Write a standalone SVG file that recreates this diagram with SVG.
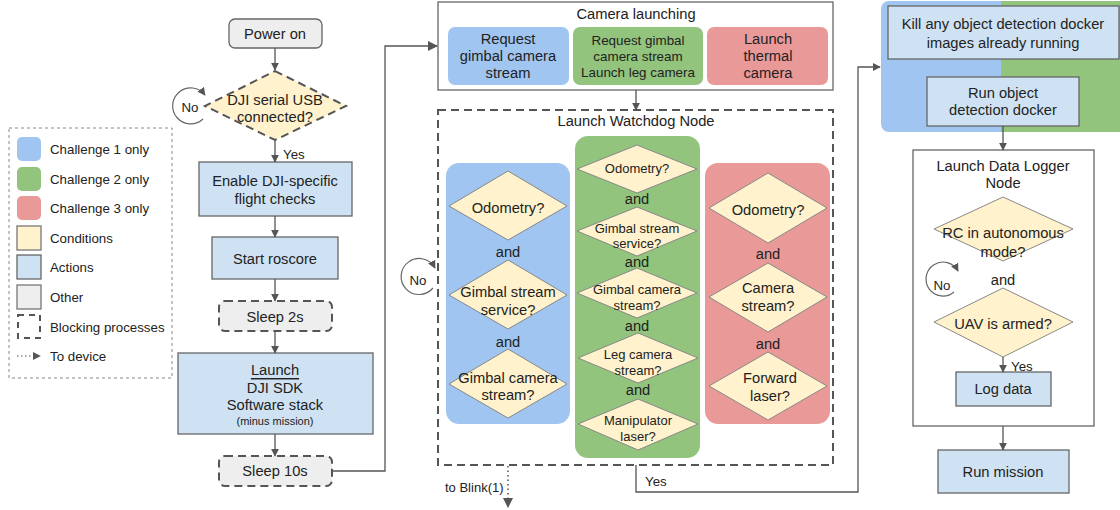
<svg xmlns="http://www.w3.org/2000/svg" width="1120" height="510" viewBox="0 0 1120 510">
  <defs>
    <marker id="arr" viewBox="0 0 10 10" refX="9" refY="5" markerWidth="8" markerHeight="8" markerUnits="userSpaceOnUse" orient="auto">
      <path d="M0,0 L10,5 L0,10 z" fill="#555"/>
    </marker>
    <marker id="arrBig" viewBox="0 0 10 10" refX="9" refY="5" markerWidth="10" markerHeight="10" markerUnits="userSpaceOnUse" orient="auto">
      <path d="M0,0 L10,5 L0,10 z" fill="#555"/>
    </marker>
    <clipPath id="clipDet">
      <rect x="881" y="1" width="250" height="131" rx="8"/>
    </clipPath>
    <style>
      text { font-family: "Liberation Sans", Arial, sans-serif; fill: #222; font-size: 14.7px; text-anchor: middle; dominant-baseline: central; }
      .sm { font-size: 13px; }
      .md { font-size: 13.4px; }
      .xs { font-size: 11px; }
      .lbl { font-size: 13.3px; }
      .left { text-anchor: start; }
      .other { fill: #eeeeee; stroke: #666; stroke-width: 1.3; }
      .block { fill: #eeeeee; stroke: #555; stroke-width: 2; stroke-dasharray: 8 5; }
      .action { fill: #cfe2f3; stroke: #666; stroke-width: 1.3; }
      .cond { fill: #fff2cc; stroke: #888; stroke-width: 1; }
      .c1 { fill: #9fc5f0; }
      .c2 { fill: #93c47d; }
      .c3 { fill: #ea9999; }
      .frame { fill: #fff; stroke: #666; stroke-width: 1.3; }
      .wire { fill: none; stroke: #555; stroke-width: 1.3; }
      .loop { fill: none; stroke: #666; stroke-width: 1.2; }
    </style>
  </defs>

  <rect width="1120" height="510" fill="#fff"/>

  <!-- Legend -->
  <g id="legend">
    <rect x="9" y="128" width="163" height="250" fill="none" stroke="#888" stroke-width="1" stroke-dasharray="3 3"/>
    <rect x="17" y="137" width="24" height="24" rx="5" class="c1"/>
    <text x="50" y="149" class="lbl left">Challenge 1 only</text>
    <rect x="17" y="167" width="24" height="24" rx="5" class="c2"/>
    <text x="50" y="179" class="lbl left">Challenge 2 only</text>
    <rect x="17" y="196" width="24" height="24" rx="5" class="c3"/>
    <text x="50" y="208" class="lbl left">Challenge 3 only</text>
    <rect x="17" y="226" width="24" height="24" class="cond" style="stroke:#777;stroke-width:1.3"/>
    <text x="50" y="238" class="lbl left">Conditions</text>
    <rect x="17" y="255" width="24" height="24" class="action"/>
    <text x="50" y="267" class="lbl left">Actions</text>
    <rect x="17" y="285" width="24" height="24" class="other" style="stroke:#777"/>
    <text x="50" y="297" class="lbl left">Other</text>
    <rect x="18" y="315" width="22" height="23" fill="none" stroke="#555" stroke-width="2" stroke-dasharray="6 5"/>
    <text x="50" y="327" class="lbl left">Blocking processes</text>
    <line x1="17" y1="356" x2="40" y2="356" stroke="#555" stroke-width="1" stroke-dasharray="1.5 2.5" marker-end="url(#arr)"/>
    <text x="50" y="356" class="lbl left">To device</text>
  </g>

  <!-- Start-up sequence -->
  <g id="power-on">
    <rect x="229" y="19" width="93" height="29" rx="6" class="other"/>
    <text x="275" y="34">Power on</text>
  </g>
  <g id="usb-check">
    <polygon points="275,71 346,106 275,140 205,106" fill="#fff2cc" stroke="#555" stroke-width="2" stroke-dasharray="8 5"/>
    <text x="275" y="100">DJI serial USB</text>
    <text x="275" y="117">connected?</text>
  </g>
  <g id="flight-checks">
    <rect x="199" y="162" width="153" height="54" class="action"/>
    <text x="275" y="181">Enable DJI-specific</text>
    <text x="275" y="199">flight checks</text>
  </g>
  <g id="roscore">
    <rect x="212" y="237" width="126" height="42" class="action"/>
    <text x="275" y="259">Start roscore</text>
  </g>
  <g id="sleep-2s">
    <rect x="219" y="301" width="113" height="30" rx="6" class="block"/>
    <text x="275" y="317">Sleep 2s</text>
  </g>
  <g id="dji-sdk">
    <rect x="178" y="353" width="195" height="81" class="action"/>
    <text x="275" y="370" text-decoration="underline">Launch</text>
    <text x="275" y="388">DJI SDK</text>
    <text x="275" y="405">Software stack</text>
    <text x="275" y="421" class="xs">(minus mission)</text>
  </g>
  <g id="sleep-10s">
    <rect x="219" y="456" width="113" height="30" rx="6" class="block"/>
    <text x="275" y="471">Sleep 10s</text>
  </g>

  <!-- Camera launching -->
  <g id="camera-launching">
    <rect x="438" y="2" width="395" height="88" class="frame"/>
    <text x="636" y="14">Camera launching</text>
    <rect x="448" y="27" width="121" height="58" rx="7" class="c1"/>
    <text x="508" y="39">Request</text>
    <text x="508" y="56">gimbal camera</text>
    <text x="508" y="73">stream</text>
    <rect x="573" y="27" width="130" height="58" rx="7" class="c2"/>
    <text x="638" y="40" class="md">Request gimbal</text>
    <text x="638" y="56" class="md">camera stream</text>
    <text x="638" y="72" class="md">Launch leg camera</text>
    <rect x="707" y="27" width="121" height="58" rx="7" class="c3"/>
    <text x="768" y="39">Launch</text>
    <text x="768" y="56">thermal</text>
    <text x="768" y="73">camera</text>
  </g>

  <!-- Watchdog -->
  <g id="watchdog">
    <rect x="438" y="110" width="395" height="355" fill="none" stroke="#555" stroke-width="2" stroke-dasharray="8 5"/>
    <text x="636" y="121">Launch Watchdog Node</text>

    <rect x="446" y="163" width="124" height="261" rx="13" class="c1"/>
    <polygon points="508,171 567,206 508,240 449,206" class="cond"/>
    <text x="508" y="208">Odometry?</text>
    <text x="508" y="252">and</text>
    <polygon points="508,260 567,295 508,329 449,295" class="cond"/>
    <text x="508" y="292">Gimbal stream</text>
    <text x="508" y="310">service?</text>
    <text x="508" y="342">and</text>
    <polygon points="508,349 567,384 508,418 449,384" class="cond"/>
    <text x="508" y="378">Gimbal camera</text>
    <text x="508" y="395">stream?</text>

    <rect x="575" y="136" width="125" height="322" rx="13" class="c2"/>
    <polygon points="637,145 697,169 637,193 577,169" class="cond"/>
    <text x="637" y="168" class="sm">Odometry?</text>
    <text x="637" y="199">and</text>
    <polygon points="637,207 697,231 637,256 577,231" class="cond"/>
    <text x="637" y="228" class="sm">Gimbal stream</text>
    <text x="637" y="243" class="sm">service?</text>
    <text x="637" y="262">and</text>
    <polygon points="637,268 697,293 637,318 577,293" class="cond"/>
    <text x="637" y="289" class="sm">Gimbal camera</text>
    <text x="637" y="305" class="sm">stream?</text>
    <text x="637" y="326">and</text>
    <polygon points="638,333 698,358 638,383 578,358" class="cond"/>
    <text x="638" y="354" class="sm">Leg camera</text>
    <text x="638" y="370" class="sm">stream?</text>
    <text x="638" y="390">and</text>
    <polygon points="638,399 698,424 638,450 578,424" class="cond"/>
    <text x="638" y="420" class="sm">Manipulator</text>
    <text x="638" y="436" class="sm">laser?</text>

    <rect x="705" y="163" width="125" height="261" rx="13" class="c3"/>
    <polygon points="768,173 827,208 768,243 709,208" class="cond"/>
    <text x="768" y="210">Odometry?</text>
    <text x="768" y="254">and</text>
    <polygon points="768,263 827,297 768,332 709,297" class="cond"/>
    <text x="768" y="288">Camera</text>
    <text x="768" y="306">stream?</text>
    <text x="768" y="344">and</text>
    <polygon points="768,352 827,386 768,420 709,386" class="cond"/>
    <text x="770" y="378">Forward</text>
    <text x="770" y="396">laser?</text>
  </g>

  <!-- Object detection -->
  <g id="object-detection">
    <g clip-path="url(#clipDet)">
      <rect x="881" y="1" width="120" height="131" class="c1"/>
      <rect x="1001" y="1" width="130" height="131" class="c2"/>
    </g>
    <rect x="888" y="6" width="231" height="53" class="action"/>
    <text x="1003" y="24">Kill any object detection docker</text>
    <text x="1003" y="43">images already running</text>
    <rect x="927" y="77" width="152" height="49" class="action"/>
    <text x="1003" y="93">Run object</text>
    <text x="1003" y="110">detection docker</text>
  </g>

  <!-- Data logger -->
  <g id="data-logger">
    <rect x="913" y="150" width="181" height="276" class="frame"/>
    <text x="1003" y="166">Launch Data Logger</text>
    <text x="1003" y="183">Node</text>
    <polygon points="1003,197 1073,229 1003,261 934,229" class="cond"/>
    <text x="1003" y="233">RC in autonomous</text>
    <text x="1003" y="252">mode?</text>
    <text x="1003" y="280">and</text>
    <polygon points="1003,288 1073,322 1003,357 934,322" class="cond"/>
    <text x="1003" y="324">UAV is armed?</text>
    <rect x="956" y="372" width="95" height="34" class="action"/>
    <text x="1003" y="389">Log data</text>
  </g>
  <g id="run-mission">
    <rect x="938" y="450" width="131" height="43" class="action"/>
    <text x="1003" y="472">Run mission</text>
  </g>

  <!-- Connectors -->
  <g id="connectors">
    <line x1="275" y1="48" x2="275" y2="70" class="wire" marker-end="url(#arr)"/>
    <line x1="275" y1="140" x2="275" y2="162" class="wire" marker-end="url(#arr)"/>
    <text x="283" y="154" class="lbl left">Yes</text>
    <line x1="275" y1="216" x2="275" y2="237" class="wire" marker-end="url(#arr)"/>
    <line x1="275" y1="279" x2="275" y2="301" class="wire" marker-end="url(#arr)"/>
    <line x1="275" y1="331" x2="275" y2="353" class="wire" marker-end="url(#arr)"/>
    <line x1="275" y1="434" x2="275" y2="456" class="wire" marker-end="url(#arr)"/>
    <polyline points="332,471 385,471 385,46 437,46" class="wire" marker-end="url(#arrBig)"/>
    <line x1="636" y1="90" x2="636" y2="110" class="wire" marker-end="url(#arr)"/>
    <polyline points="636,465 636,492 858,492 858,67 880,67" class="wire" marker-end="url(#arr)"/>
    <text x="645" y="481" class="lbl left">Yes</text>
    <line x1="508" y1="466" x2="508" y2="507" stroke="#555" stroke-width="1.5" stroke-dasharray="1.5 3" marker-end="url(#arrBig)"/>
    <text x="445" y="487" class="sm left">to Blink(1)</text>
    <line x1="1003" y1="126" x2="1003" y2="150" class="wire" marker-end="url(#arr)"/>
    <line x1="1003" y1="357" x2="1003" y2="372" class="wire" marker-end="url(#arr)"/>
    <text x="1011" y="366" class="lbl left">Yes</text>
    <line x1="1003" y1="426" x2="1003" y2="450" class="wire" marker-end="url(#arr)"/>
    <!-- retry loops -->
    <path d="M203,119 A18,18 0 1 1 205,95" class="loop" marker-end="url(#arr)"/>
    <text x="190" y="107" class="lbl">No</text>
    <path d="M433,288 A18,18 0 1 1 435,268" class="loop" marker-end="url(#arr)"/>
    <text x="418" y="280" class="lbl">No</text>
    <path d="M954,292 A17,17 0 1 1 958,271" class="loop" marker-end="url(#arr)"/>
    <text x="942" y="285" class="lbl">No</text>
  </g>
</svg>
